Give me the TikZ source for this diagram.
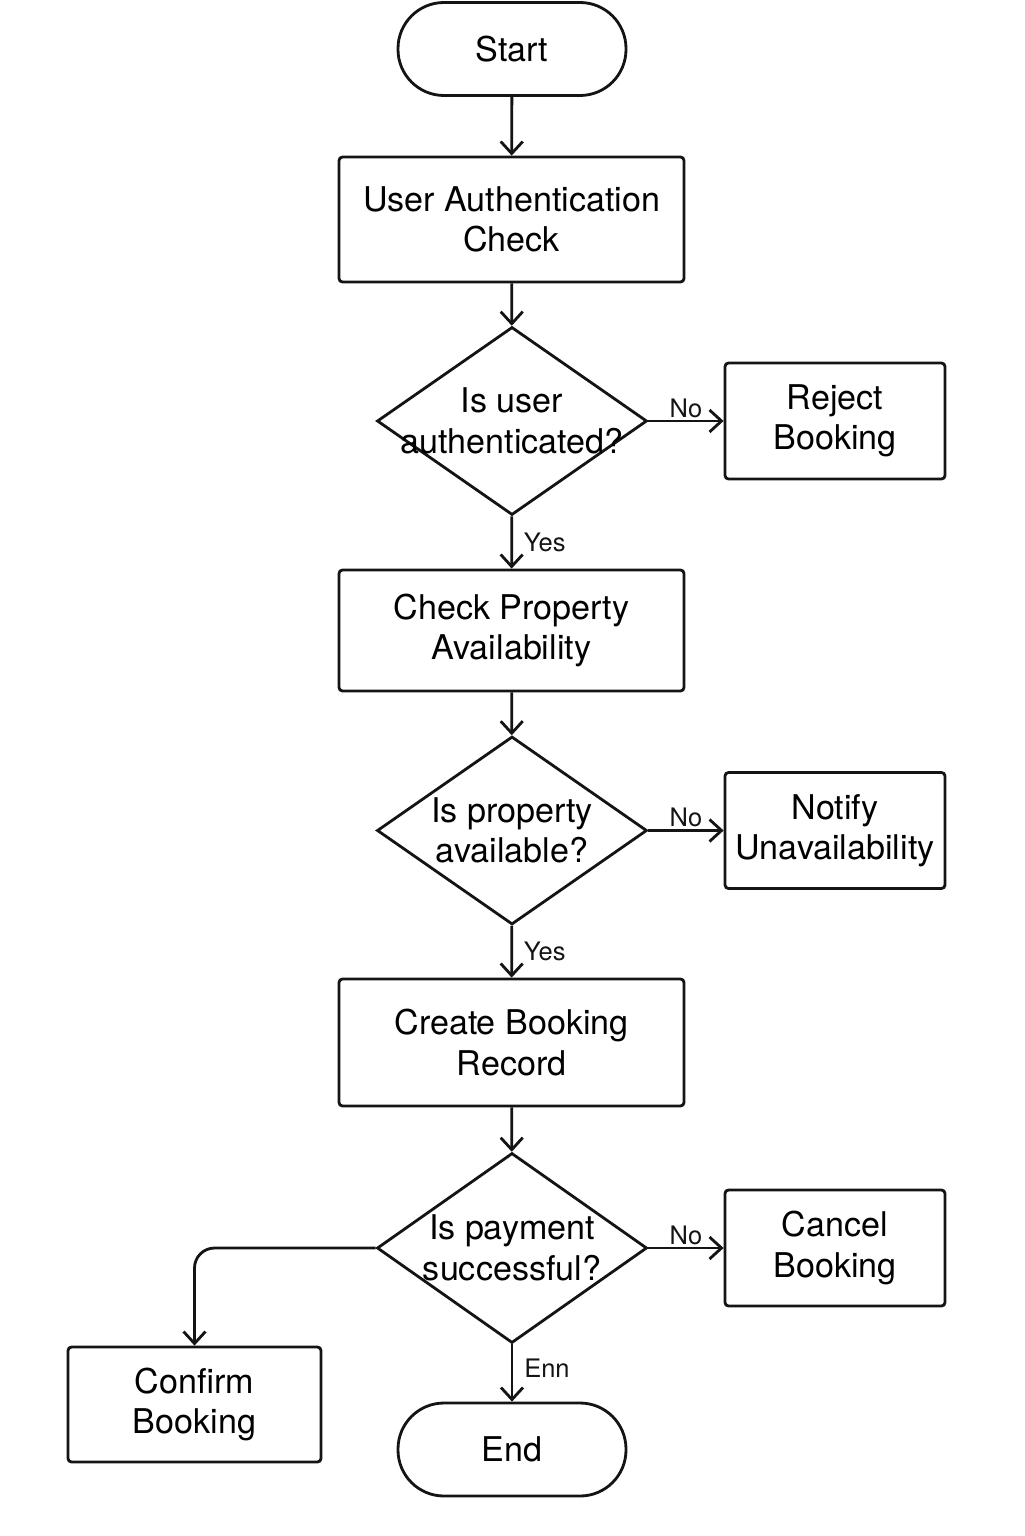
\documentclass[tikz,border=0pt]{standalone}
\usepackage{fontspec}
\setmainfont{TeX Gyre Heros}
\usepackage{tikz}
\usetikzlibrary{arrows.meta,shapes,positioning}
\definecolor{fcline}{RGB}{20,20,20}
\tikzstyle{arrow} = [line width=1.6pt,color=fcline,-{Straight Barb[length=2.4mm,width=4.4mm,line width=1.6pt]}]
\tikzstyle{procbox} = [rectangle, rounded corners=2pt, draw=fcline, line width=1.6pt, align=center, font=\fontsize{19.4}{23}\selectfont]
\tikzstyle{termbox} = [rectangle, rounded corners=0.92cm, draw=fcline, line width=1.6pt, minimum width=4.56cm, minimum height=1.86cm, font=\fontsize{19.4}{23}\selectfont]
\tikzstyle{decbox} = [diamond, draw=fcline, line width=1.6pt, align=center, inner xsep=-1cm, inner ysep=-0.2cm, minimum width=5.4cm, minimum height=3.76cm, font=\fontsize{19.4}{23}\selectfont]
\tikzstyle{edgelabel} = [font=\fontsize{14.5}{16}\selectfont, text=fcline]

\begin{document}
\begin{tikzpicture}
\useasboundingbox (0,0) rectangle (20.48,-30.72);

% Main column
\node[termbox] (start) at (10.24,-0.98) {Start};
\node[procbox, minimum width=6.9cm, minimum height=2.5cm] (auth) at (10.23,-4.39) {User Authentication\\Check};
\node[decbox] (isauth) at (10.24,-8.42) {Is user\\authenticated?};
\node[procbox, minimum width=6.9cm, minimum height=2.42cm] (avail) at (10.23,-12.61) {Check Property\\Availability};
\node[decbox] (isavail) at (10.24,-16.61) {Is property\\available?};
\node[procbox, minimum width=6.9cm, minimum height=2.54cm] (create) at (10.23,-20.85) {Create Booking\\Record};
\node[decbox, minimum height=3.8cm] (ispaid) at (10.24,-24.96) {Is payment\\successful?};
\node[termbox] (end) at (10.24,-28.99) {End};

% Side boxes
\node[procbox, minimum width=4.4cm, minimum height=2.32cm] (reject) at (16.7,-8.42) {Reject\\Booking};
\node[procbox, minimum width=4.4cm, minimum height=2.32cm] (notify) at (16.7,-16.61) {Notify\\Unavailability};
\node[procbox, minimum width=4.4cm, minimum height=2.32cm] (cancel) at (16.7,-24.96) {Cancel\\Booking};
\node[procbox, minimum width=5.06cm, minimum height=2.3cm] (confirm) at (3.89,-28.09) {Confirm\\Booking};

% Connectors
\draw[arrow] (start) -- (auth);
\draw[arrow] (auth) -- (isauth);
\draw[arrow] (isauth) -- node[edgelabel, right, xshift=1mm] {Yes} (avail);
\draw[arrow] (isauth) -- node[edgelabel, above, inner sep=1pt] {No} (reject);
\draw[arrow] (avail) -- (isavail);
\draw[arrow] (isavail) -- node[edgelabel, right, xshift=1mm] {Yes} (create);
\draw[arrow] (isavail) -- node[edgelabel, above, inner sep=1pt] {No} (notify);
\draw[arrow] (create) -- (ispaid);
\draw[arrow] (ispaid) -- node[edgelabel, above, inner sep=1pt] {No} (cancel);
\draw[arrow] (ispaid) -- node[edgelabel, right, xshift=1mm, yshift=1mm] {Enn} (end);
\draw[arrow, rounded corners=0.4cm] (ispaid.west) -| (confirm.north);
\end{tikzpicture}
\end{document}
